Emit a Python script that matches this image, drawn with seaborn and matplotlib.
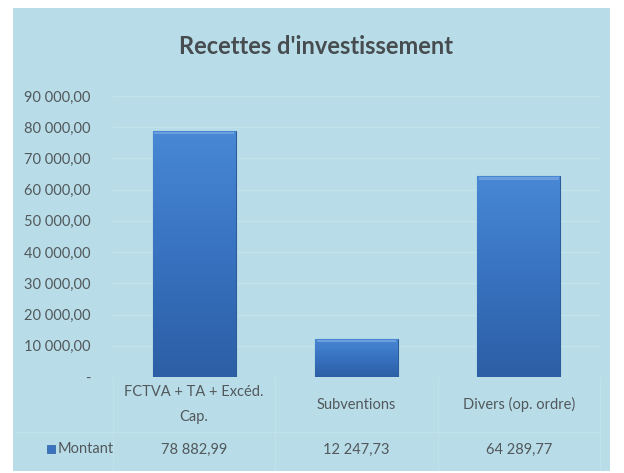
import numpy as np
import pandas as pd
import matplotlib
matplotlib.use("Agg")
import matplotlib.pyplot as plt
from matplotlib.patches import Rectangle
from matplotlib.colors import LinearSegmentedColormap
import seaborn as sns

categories = ["FCTVA + TA + Excéd.\nCap.", "Subventions", "Divers (op. ordre)"]
montant = [78882.99, 12247.73, 64289.77]
montant_labels = ["78 882,99", "12 247,73", "64 289,77"]
yticks = [0, 10000, 20000, 30000, 40000, 50000, 60000, 70000, 80000, 90000]
title = "Recettes d'investissement"
series_name = "Montant"

sns.set_theme(style="white")
plt.rcParams['font.family'] = ['Lato', 'DejaVu Sans']

W, H = 624, 473
fig = plt.figure(figsize=(W / 100, H / 100), dpi=100)
fig.patch.set_facecolor("white")
panel_col = "#b8dde8"
fig.patches.append(Rectangle((13 / W, 1 - 471 / H), (610 - 13) / W, (471 - 8) / H,
                             transform=fig.transFigure, facecolor=panel_col,
                             edgecolor="none", zorder=-10))

left, right = 113 / W, 600 / W
bottom, top = 1 - 377 / H, 1 - 96 / H
ax = fig.add_axes([left, bottom, right - left, top - bottom])
ax.set_facecolor("none")

txt = "#52585b"
df = pd.DataFrame({"cat": categories, "val": montant})
sns.barplot(data=df, x="cat", y="val", ax=ax, color="#3a74c0", width=0.51,
            saturation=1, edgecolor="#2d5c9a", linewidth=0.8, zorder=3)

grad = np.linspace(0, 1, 256).reshape(-1, 1)
cmap = LinearSegmentedColormap.from_list("g", ["#2c5fa5", "#3872c0", "#4888d5"])
for p in list(ax.patches):
    x0, y0 = p.get_x(), p.get_y()
    w, h = p.get_width(), p.get_height()
    im = ax.imshow(grad, extent=[x0, x0 + w, y0, y0 + h], origin="lower",
                   cmap=cmap, aspect="auto", zorder=4)
    im.set_clip_path(p)
    ax.add_patch(Rectangle((x0 + 0.01, y0 + h - 1100), w - 0.02, 800,
                           facecolor="#6d9fdf", edgecolor="none", zorder=5))

ax.set_xlim(-0.5, 2.5)
ax.set_ylim(0, 90000)
ax.set_yticks(yticks)
ax.set_yticklabels(["-" if v == 0 else f"{v:,.2f}".replace(",", " ").replace(".", ",")
                    for v in yticks], color=txt, fontsize=10.5)
ax.tick_params(axis="y", length=0, pad=16)
ax.set_xticks([])
ax.set_xlabel("")
ax.set_ylabel("")
ax.grid(axis="y", color="#c2e3ec", linewidth=1, zorder=0)
for s in ax.spines.values():
    s.set_visible(False)

fig.text(316 / W, 1 - 47 / H, title, ha="center", va="center", fontsize=17,
         fontweight="bold", color="#464c4f")

# data table below
tc = "#bfe2eb"
xt = ax.get_xaxis_transform()
for xv in [-0.5, 0.5, 1.5, 2.5]:
    ax.plot([xv, xv], [0, -0.33], transform=xt, color=tc, lw=1, clip_on=False, zorder=1)
ax.plot([-0.5 - 0.6, 2.5], [-0.196, -0.196], transform=xt, color=tc, lw=1,
        clip_on=False, zorder=1)
for i, c in enumerate(categories):
    ax.text(i, -0.098, c, transform=xt, ha="center", va="center", fontsize=10.5,
            color=txt, linespacing=2.0)
    ax.text(i, -0.26, montant_labels[i], transform=xt, ha="center", va="center",
            fontsize=10.5, color=txt)
fig.text(58 / W, 1 - 449 / H, series_name, ha="left", va="center", fontsize=10.5,
         color=txt)
fig.patches.append(Rectangle((47 / W, 1 - 453 / H), 8 / W, 8 / H,
                             transform=fig.transFigure, facecolor="#3a74c0",
                             edgecolor="#2d5c9a", linewidth=0.5))

fig.savefig("out.png", dpi=100)
